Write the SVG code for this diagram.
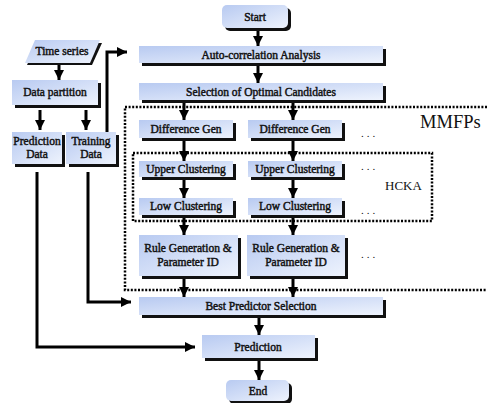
<svg xmlns="http://www.w3.org/2000/svg" width="489" height="403" viewBox="0 0 489 403">
<style>
.box{fill:url(#g)}
.sh{fill:#111}
.t{font-family:"Liberation Serif","Times New Roman",serif;font-weight:normal;font-size:11.5px;fill:#111;stroke:#111;stroke-width:0.45;text-anchor:middle}
.n{font-family:"Liberation Serif","Times New Roman",serif;fill:#111}
.c{stroke:#000;stroke-width:3;fill:none}
.d{stroke:#000;stroke-width:2.5;fill:none;stroke-dasharray:2 1.6}
</style>
<defs>
<linearGradient id="g" x1="0" y1="0" x2="1" y2="1">
<stop offset="0" stop-color="#b8caf1"/>
<stop offset="1" stop-color="#eef3fd"/>
</linearGradient>
<marker id="a" markerUnits="userSpaceOnUse" markerWidth="10" markerHeight="10" viewBox="0 0 10 10" refX="10" refY="5" orient="auto">
<path d="M0,0 L10,5 L0,10 Z" fill="#000"/>
</marker>
</defs>

<g id="regions">
<path class="d" d="M487,107 H125 V290 H487"/>
<rect class="d" x="133" y="153" width="299" height="68"/>
<text class="n" x="420" y="128" font-size="18.5">MMFPs</text>
<text class="n" x="385" y="190" font-size="13">HCKA</text>
<g class="n" font-size="11">
<text x="361" y="137" letter-spacing="3">...</text>
<text x="361" y="170" letter-spacing="3">...</text>
<text x="361" y="214" letter-spacing="3">...</text>
<text x="361" y="258" letter-spacing="3">...</text>
</g>
</g>

<g id="connectors">
<line class="c" x1="258" y1="30" x2="258" y2="46" marker-end="url(#a)"/>
<line class="c" x1="258" y1="66" x2="258" y2="83" marker-end="url(#a)"/>
<line class="c" x1="184" y1="102" x2="184" y2="120" marker-end="url(#a)"/>
<line class="c" x1="293" y1="102" x2="293" y2="120" marker-end="url(#a)"/>
<line class="c" x1="184" y1="141" x2="184" y2="161" marker-end="url(#a)"/>
<line class="c" x1="293" y1="141" x2="293" y2="161" marker-end="url(#a)"/>
<line class="c" x1="184" y1="180" x2="184" y2="198" marker-end="url(#a)"/>
<line class="c" x1="293" y1="180" x2="293" y2="198" marker-end="url(#a)"/>
<line class="c" x1="184" y1="218" x2="184" y2="235" marker-end="url(#a)"/>
<line class="c" x1="293" y1="218" x2="293" y2="235" marker-end="url(#a)"/>
<line class="c" x1="184" y1="279" x2="184" y2="297" marker-end="url(#a)"/>
<line class="c" x1="293" y1="279" x2="293" y2="297" marker-end="url(#a)"/>
<line class="c" x1="259" y1="318" x2="259" y2="335" marker-end="url(#a)"/>
<line class="c" x1="259" y1="361" x2="259" y2="380" marker-end="url(#a)"/>
<line class="c" x1="59" y1="64" x2="59" y2="80" marker-end="url(#a)"/>
<line class="c" x1="40" y1="110" x2="40" y2="130" marker-end="url(#a)"/>
<line class="c" x1="86" y1="110" x2="86" y2="130" marker-end="url(#a)"/>
<path class="c" d="M107,132 V52 H127" marker-end="url(#a)"/>
<path class="c" d="M37,172 V347 H195" marker-end="url(#a)"/>
<path class="c" d="M88,172 V302 H131" marker-end="url(#a)"/>
</g>

<g id="start">
<rect class="sh" x="225" y="8" width="66" height="23" rx="5"/>
<rect class="box" x="222" y="5" width="66" height="23" rx="5"/>
<text class="t" x="255" y="21">Start</text>
</g>
<g id="autocorr">
<rect class="sh" x="142" y="49" width="244" height="17"/>
<rect class="box" x="139" y="46" width="244" height="17"/>
<text class="t" x="261" y="58.5">Auto-correlation Analysis</text>
</g>
<g id="selection">
<rect class="sh" x="142" y="86" width="244" height="17"/>
<rect class="box" x="139" y="83" width="244" height="17"/>
<text class="t" x="261" y="95.5">Selection of Optimal Candidates</text>
</g>
<g id="diff1">
<rect class="sh" x="142" y="123" width="94" height="18"/>
<rect class="box" x="139" y="120" width="94" height="18"/>
<text class="t" x="186" y="133">Difference Gen</text>
</g>
<g id="diff2">
<rect class="sh" x="251" y="123" width="94" height="18"/>
<rect class="box" x="248" y="120" width="94" height="18"/>
<text class="t" x="295" y="133">Difference Gen</text>
</g>
<g id="upper1">
<rect class="sh" x="142" y="164" width="94" height="16"/>
<rect class="box" x="139" y="161" width="94" height="16"/>
<text class="t" x="186" y="173">Upper Clustering</text>
</g>
<g id="upper2">
<rect class="sh" x="251" y="164" width="94" height="16"/>
<rect class="box" x="248" y="161" width="94" height="16"/>
<text class="t" x="295" y="173">Upper Clustering</text>
</g>
<g id="low1">
<rect class="sh" x="142" y="201" width="94" height="17"/>
<rect class="box" x="139" y="198" width="94" height="17"/>
<text class="t" x="186" y="210">Low Clustering</text>
</g>
<g id="low2">
<rect class="sh" x="251" y="201" width="94" height="17"/>
<rect class="box" x="248" y="198" width="94" height="17"/>
<text class="t" x="295" y="210">Low Clustering</text>
</g>
<g id="rule1">
<rect class="sh" x="142" y="238" width="99" height="41"/>
<rect class="box" x="139" y="235" width="99" height="41"/>
<text class="t" x="188" y="252">Rule Generation &amp;</text>
<text class="t" x="188" y="266">Parameter ID</text>
</g>
<g id="rule2">
<rect class="sh" x="250" y="238" width="98" height="41"/>
<rect class="box" x="247" y="235" width="98" height="41"/>
<text class="t" x="296" y="252">Rule Generation &amp;</text>
<text class="t" x="296" y="266">Parameter ID</text>
</g>
<g id="best">
<rect class="sh" x="142" y="300" width="244" height="18"/>
<rect class="box" x="139" y="297" width="244" height="18"/>
<text class="t" x="261" y="310">Best Predictor Selection</text>
</g>
<g id="prediction">
<rect class="sh" x="205" y="338" width="113" height="23"/>
<rect class="box" x="202" y="335" width="113" height="23"/>
<text class="t" x="258" y="351">Prediction</text>
</g>
<g id="end">
<rect class="sh" x="229" y="383" width="63" height="21" rx="5"/>
<rect class="box" x="226" y="380" width="63" height="21" rx="5"/>
<text class="t" x="258" y="395">End</text>
</g>
<g id="timeseries">
<polygon class="sh" points="37,43 102,43 92,65 27,65"/>
<polygon class="box" points="35,40 100,40 90,63 25,63"/>
<text class="t" x="62" y="55">Time series</text>
</g>
<g id="partition">
<rect class="sh" x="15" y="83" width="86" height="25"/>
<rect class="box" x="12" y="80" width="86" height="25"/>
<text class="t" x="55" y="96">Data partition</text>
</g>
<g id="predictiondata">
<rect class="sh" x="15" y="135" width="50" height="32"/>
<rect class="box" x="12" y="132" width="50" height="32"/>
<text class="t" x="37" y="145">Prediction</text>
<text class="t" x="37" y="158">Data</text>
</g>
<g id="trainingdata">
<rect class="sh" x="69" y="135" width="50" height="32"/>
<rect class="box" x="66" y="132" width="50" height="32"/>
<text class="t" x="91" y="145">Training</text>
<text class="t" x="91" y="158">Data</text>
</g>
</svg>
